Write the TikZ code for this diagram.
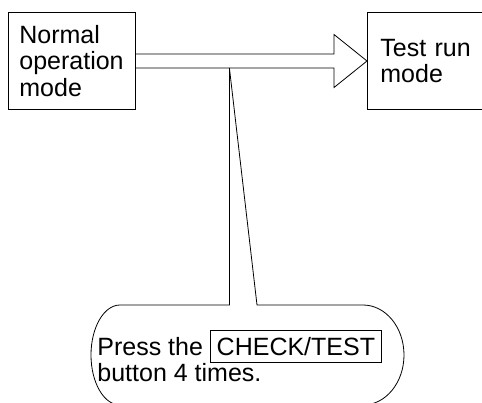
\documentclass[tikz,border=0pt]{standalone}
\usepackage{fontspec}
\setmainfont{Liberation Sans}
\usetikzlibrary{calc}
\setlength{\fboxsep}{6pt}
\setlength{\fboxrule}{0.8pt}

\begin{document}
\begin{tikzpicture}[x=1pt, y=-1pt, line width=0.8pt,
    every node/.style={font=\fontsize{25}{26.5}\selectfont},
    modebox/.style={draw, align=left, minimum height=97pt, inner sep=0pt}]
  \useasboundingbox (0,0) rectangle (482,403);
  \clip (0,0) rectangle (482,403);

  % the two modes
  \node[modebox, minimum width=127pt] (normal) at (71.5,61) {Normal\\operation\\mode};
  \node[modebox, anchor=west, minimum width=140pt, text width=127pt, inner xsep=13pt] (testrun) at (367,61) {Test run\\mode};

  % hollow arrow between them
  \draw[line join=miter] ($(normal.east)+(0,-7)$) -- ($(testrun.west)+(-33,-7)$) -- ++(0,-19.5)
    -- (testrun.west) -- ++(-33,26.5) -- ++(0,-19.5) -- ($(normal.east)+(0,7)$);
  \coordinate (stemtop) at ($(normal.east)+(94,7)$);

  % callout
  \node[anchor=north west, align=left, inner sep=0pt] (note) at (97,330)
    {Press the \fbox{CHECK/TEST}\\button 4 times.};
  \draw (stemtop) -- (stemtop |- 0,305) -- (120,305)
    arc[start angle=270, end angle=90, x radius=29, y radius=50]
    -- (363,405)
    arc[start angle=90, end angle=-90, x radius=41, y radius=50]
    -- (257,305) -- (stemtop);
\end{tikzpicture}
\end{document}
